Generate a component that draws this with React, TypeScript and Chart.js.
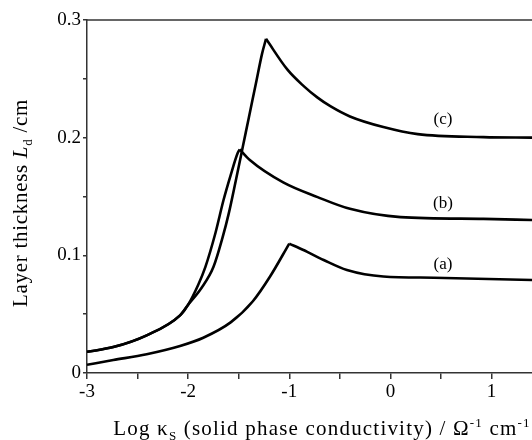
import React, { useEffect, useRef } from "react";
import { Chart, registerables } from "chart.js";

Chart.register(...registerables);

const seriesNames = ["(a)", "(b)", "(c)"];

const aX = [-3, -2.74, -2.41, -2.08, -1.85, -1.58, -1.36, -1.19, -1.0, -0.86, -0.66, -0.43, -0.07, 0.43, 1.4];
const aY = [0.007, 0.011, 0.016, 0.023, 0.03, 0.043, 0.061, 0.082, 0.11, 0.1045, 0.096, 0.0875, 0.082, 0.081, 0.079];

const bX = [-3, -2.74, -2.41, -2.08, -2.0, -1.9, -1.83, -1.73, -1.65, -1.58, -1.51, -1.49, -1.39, -1.06, -0.72, -0.4, 0.1, 0.92, 1.4];
const bY = [0.018, 0.022, 0.032, 0.049, 0.058, 0.075, 0.09, 0.119, 0.147, 0.168, 0.187, 0.19, 0.181, 0.162, 0.1495, 0.1395, 0.1325, 0.131, 0.13];

const cX = [-3, -2.74, -2.41, -2.08, -2.0, -1.87, -1.75, -1.66, -1.6, -1.53, -1.46, -1.4, -1.33, -1.27, -1.23, -1.02, -0.86, -0.72, -0.59, -0.4, -0.07, 0.27, 0.92, 1.4];
const cY = [0.018, 0.022, 0.032, 0.049, 0.058, 0.072, 0.09, 0.115, 0.135, 0.163, 0.192, 0.217, 0.246, 0.271, 0.284, 0.258, 0.244, 0.234, 0.2265, 0.218, 0.209, 0.203, 0.2005, 0.2];

const labelX = [0.52, 0.52, 0.52];
const labelY = [0.092, 0.144, 0.215];

const xMin = -3;
const xMax = 1.4;
const yMin = 0;
const yMax = 0.3;

const SERIF = "'Liberation Serif', 'DejaVu Serif', serif";

type Part = { t: string; italic?: boolean; sub?: boolean; sup?: boolean };

function drawParts(ctx: CanvasRenderingContext2D, parts: Part[], size: number, spacing: number, cx: number, baseY: number) {
  const c: any = ctx;
  c.letterSpacing = `${spacing}px`;
  const fontFor = (p: Part) => {
    const s = p.sub || p.sup ? Math.round(size * 0.62) : size;
    return `${p.italic ? "italic " : ""}${s}px ${SERIF}`;
  };
  let total = 0;
  const widths = parts.map((p) => {
    ctx.font = fontFor(p);
    const w = ctx.measureText(p.t).width;
    total += w;
    return w;
  });
  let x = cx - total / 2;
  ctx.textAlign = "left";
  ctx.textBaseline = "alphabetic";
  parts.forEach((p, i) => {
    ctx.font = fontFor(p);
    let y = baseY;
    if (p.sub) y += size * 0.22;
    if (p.sup) y -= size * 0.38;
    ctx.fillText(p.t, x, y);
    x += widths[i];
  });
  c.letterSpacing = "0px";
}

const xTitle: Part[] = [
  { t: "Log κ" },
  { t: "S", sub: true },
  { t: " (solid phase conductivity) / Ω" },
  { t: "-1", sup: true },
  { t: " cm" },
  { t: "-1", sup: true },
];

const yTitle: Part[] = [
  { t: "Layer thickness " },
  { t: "L", italic: true },
  { t: "d", sub: true },
  { t: " /cm" },
];

const decorPlugin = {
  id: "decor",
  afterDraw(chart: any) {
    const ctx: CanvasRenderingContext2D = chart.ctx;
    const area = chart.chartArea;
    const xs = chart.scales.x;
    const ys = chart.scales.y;
    ctx.save();
    ctx.strokeStyle = "#333";
    ctx.lineWidth = 1.5;
    ctx.beginPath();
    ctx.moveTo(area.left, area.top);
    ctx.lineTo(area.right, area.top);
    ctx.stroke();
    ctx.fillStyle = "#000";
    ctx.font = `17px ${SERIF}`;
    ctx.textAlign = "center";
    ctx.textBaseline = "middle";
    seriesNames.forEach((n, i) => {
      ctx.fillText(n, xs.getPixelForValue(labelX[i]), ys.getPixelForValue(labelY[i]));
    });
    drawParts(ctx, xTitle, 21, 1.2, 322, 435);
    ctx.save();
    ctx.translate(27, 203);
    ctx.rotate(-Math.PI / 2);
    drawParts(ctx, yTitle, 21, 0.7, 0, 0);
    ctx.restore();
    ctx.restore();
  },
};

function toPts(xs: number[], ys: number[]) {
  return xs.map((x, i) => ({ x, y: ys[i] }));
}

// split each curve at its peak so the cusp stays sharp while each branch is smooth
function branches(xs: number[], ys: number[]) {
  let k = 0;
  ys.forEach((v, i) => {
    if (v > ys[k]) k = i;
  });
  const pts = toPts(xs, ys);
  return [pts.slice(0, k + 1), pts.slice(k)];
}

export default function App() {
  const ref = useRef<HTMLCanvasElement | null>(null);
  useEffect(() => {
    document.body.style.margin = "0";
    if (!ref.current) return;
    const ds = (data: { x: number; y: number }[]) => ({
      data,
      borderColor: "#000",
      borderWidth: 2.6,
      pointRadius: 0,
      cubicInterpolationMode: "monotone" as const,
      fill: false,
    });
    const datasets = [
      ...branches(aX, aY),
      ...branches(bX, bY),
      ...branches(cX, cY),
    ].map(ds);
    const chart = new Chart(ref.current, {
      type: "line",
      data: { datasets },
      options: {
        animation: false,
        responsive: true,
        maintainAspectRatio: false,
        layout: { padding: { top: 20, right: 0, left: 0, bottom: 0 } },
        plugins: { legend: { display: false }, tooltip: { enabled: false } },
        events: [],
        scales: {
          x: {
            type: "linear",
            min: xMin,
            max: xMax,
            afterFit: (s: any) => {
              s.height = 67;
            },
            ticks: {
              stepSize: 0.5,
              includeBounds: false,
              autoSkip: false,
              maxRotation: 0,
              padding: 2,
              color: "#000",
              font: { family: SERIF, size: 19 },
              callback: (v: any) => {
                const n = Number(v);
                return Math.abs(n - Math.round(n)) < 1e-6 ? String(Math.round(n)) : "";
              },
            },
            grid: { drawOnChartArea: false, drawTicks: true, tickLength: 6, color: "#333", lineWidth: 1.5 },
            border: { display: true, color: "#333", width: 1.5 },
          },
          y: {
            type: "linear",
            min: yMin,
            max: yMax,
            afterFit: (s: any) => {
              s.width = 87;
            },
            ticks: {
              stepSize: 0.05,
              autoSkip: false,
              padding: 2,
              color: "#000",
              font: { family: SERIF, size: 19 },
              callback: (v: any) => {
                const n = Number(v);
                if (Math.abs(n * 10 - Math.round(n * 10)) > 1e-6) return "";
                const r = Math.round(n * 10) / 10;
                return r === 0 ? "0" : r.toFixed(1);
              },
            },
            grid: { drawOnChartArea: false, drawTicks: true, tickLength: 4, color: "#333", lineWidth: 1.5 },
            border: { display: true, color: "#333", width: 1.5 },
          },
        },
      },
      plugins: [decorPlugin],
    });
    return () => chart.destroy();
  }, []);
  return (
    <div style={{ position: "absolute", left: 0, top: 0, width: 532, height: 440 }}>
      <canvas ref={ref} />
    </div>
  );
}
